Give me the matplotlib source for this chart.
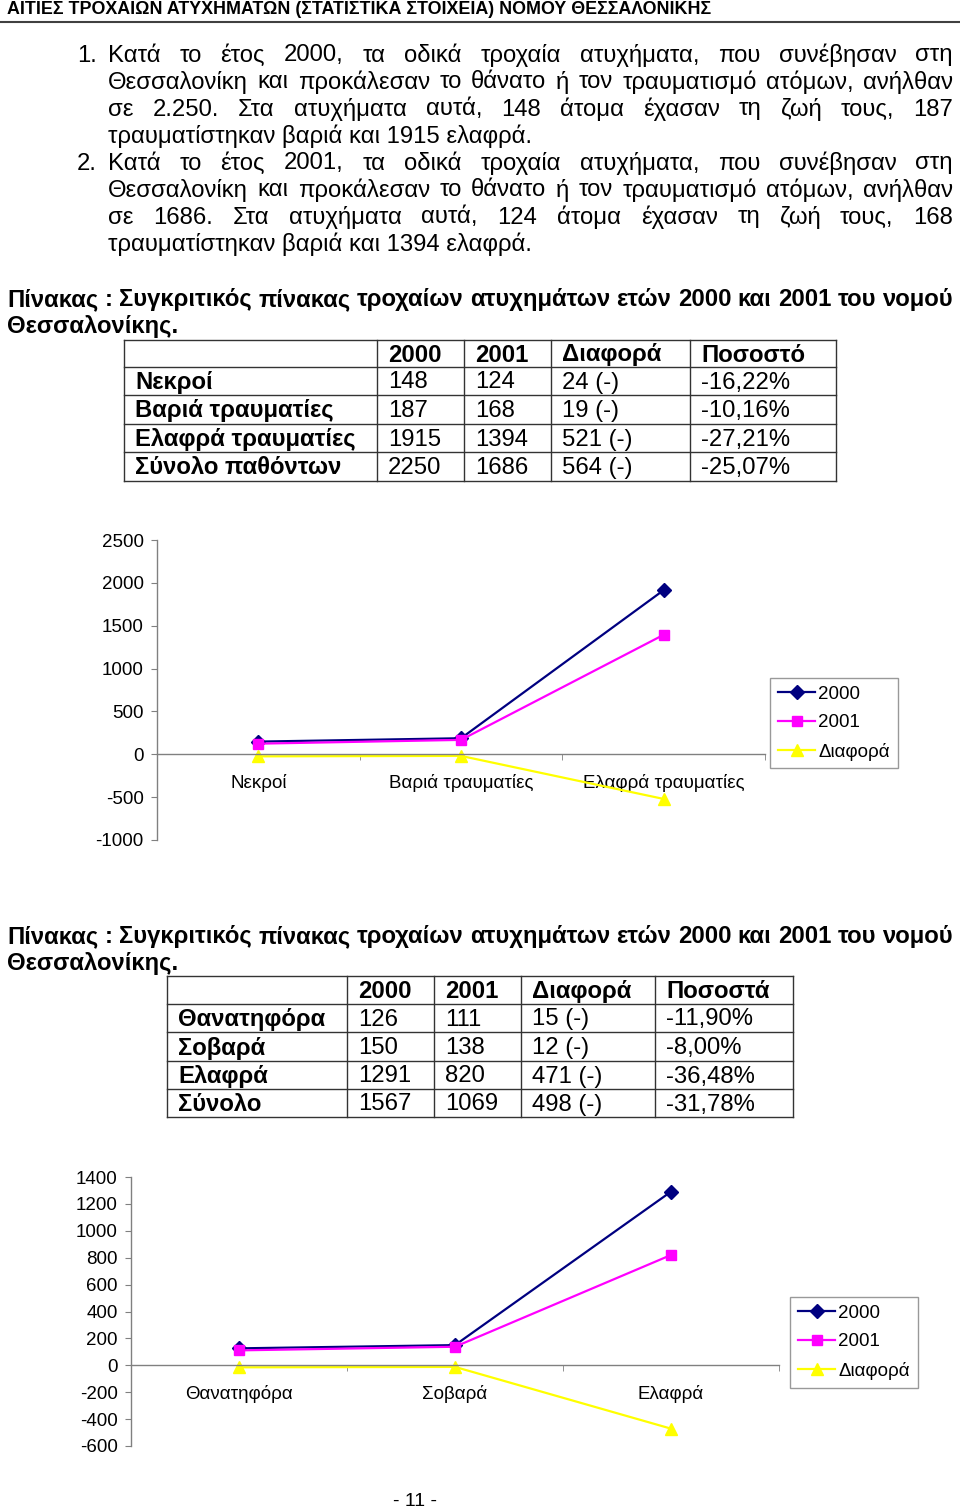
"""Σελίδα 11: αιτίες τροχαίων ατυχημάτων νομού Θεσσαλονίκης (κείμενο, πίνακες, διαγράμματα)."""

import matplotlib

matplotlib.use("Agg")
import matplotlib.pyplot as plt
import numpy as np
from matplotlib import font_manager
from matplotlib.font_manager import FontProperties
from matplotlib.lines import Line2D

# ---- δεδομένα -------------------------------------------------------------
cats_victims = ["Νεκροί", "Βαριά τραυματίες", "Ελαφρά τραυματίες"]
victims_2000 = [148, 187, 1915]
victims_2001 = [124, 168, 1394]
victims_diff = [-24, -19, -521]

table1_header = ["", "2000", "2001", "Διαφορά", "Ποσοστό"]
table1_rows = ["Νεκροί", "Βαριά τραυματίες", "Ελαφρά τραυματίες", "Σύνολο παθόντων"]
table1_2000 = ["148", "187", "1915", "2250"]
table1_2001 = ["124", "168", "1394", "1686"]
table1_diff = ["24 (-)", "19 (-)", "521 (-)", "564 (-)"]
table1_pct = ["-16,22%", "-10,16%", "-27,21%", "-25,07%"]

cats_accidents = ["Θανατηφόρα", "Σοβαρά", "Ελαφρά"]
accidents_2000 = [126, 150, 1291]
accidents_2001 = [111, 138, 820]
accidents_diff = [-15, -12, -471]

table2_header = ["", "2000", "2001", "Διαφορά", "Ποσοστά"]
table2_rows = ["Θανατηφόρα", "Σοβαρά", "Ελαφρά", "Σύνολο"]
table2_2000 = ["126", "150", "1291", "1567"]
table2_2001 = ["111", "138", "820", "1069"]
table2_diff = ["15 (-)", "12 (-)", "471 (-)", "498 (-)"]
table2_pct = ["-11,90%", "-8,00%", "-36,48%", "-31,78%"]

series_labels = ["2000", "2001", "Διαφορά"]

header_text = "ΑΙΤΙΕΣ ΤΡΟΧΑΙΩΝ ΑΤΥΧΗΜΑΤΩΝ (ΣΤΑΤΙΣΤΙΚΑ ΣΤΟΙΧΕΙΑ) ΝΟΜΟΥ ΘΕΣΣΑΛΟΝΙΚΗΣ"
item1 = [
    "Κατά το έτος 2000, τα οδικά τροχαία ατυχήματα, που συνέβησαν στη",
    "Θεσσαλονίκη και προκάλεσαν το θάνατο ή τον τραυματισμό ατόμων, ανήλθαν",
    "σε 2.250. Στα ατυχήματα αυτά, 148 άτομα έχασαν τη ζωή τους, 187",
    "τραυματίστηκαν βαριά και 1915 ελαφρά.",
]
item2 = [
    "Κατά το έτος 2001, τα οδικά τροχαία ατυχήματα, που συνέβησαν στη",
    "Θεσσαλονίκη και προκάλεσαν το θάνατο ή τον τραυματισμό ατόμων, ανήλθαν",
    "σε 1686. Στα ατυχήματα αυτά, 124 άτομα έχασαν τη ζωή τους, 168",
    "τραυματίστηκαν βαριά και 1394 ελαφρά.",
]
caption = [
    "Πίνακας : Συγκριτικός πίνακας τροχαίων ατυχημάτων ετών 2000 και 2001 του νομού",
    "Θεσσαλονίκης.",
]

# ---- στήσιμο ---------------------------------------------------------------
W, H = 960, 1512
installed = {f.name for f in font_manager.fontManager.ttflist}
SANS = "Liberation Sans" if "Liberation Sans" in installed else "DejaVu Sans"
NARROW = "Liberation Sans Narrow" if "Liberation Sans Narrow" in installed else SANS
plt.rcParams["font.family"] = [SANS, "DejaVu Sans"]

BODY = 17.2
TICK = 13.5
GRAY = "#808080"
RULE = "#333333"
DY = 1.5  # va="center" κάθεται λίγο ψηλά λόγω descender


def fx(px):
    return px / W


def fy(py):
    return 1 - py / H


fig = plt.figure(figsize=(W / 100, H / 100), dpi=100)
renderer = fig.canvas.get_renderer()


def text_width(s, prop):
    return renderer.get_text_width_height_descent(s, prop, ismath=False)[0]


def put_line(s, x0, x1, y, size=BODY, weight="normal", justify=True):
    prop = FontProperties(family=SANS, size=size, weight=weight)
    words = s.split()
    if not justify or len(words) < 2:
        fig.text(fx(x0), fy(y + DY), s, fontproperties=prop, va="center", ha="left")
        return
    widths = [text_width(w, prop) for w in words]
    gap = (x1 - x0 - sum(widths)) / (len(words) - 1)
    x = x0
    for w, wd in zip(words, widths):
        fig.text(fx(x), fy(y + DY), w, fontproperties=prop, va="center", ha="left")
        x += wd + gap


def put_item(num, lines, y0):
    fig.text(fx(77), fy(y0 + DY), f"{num}.", fontsize=BODY, va="center", ha="left")
    for i, s in enumerate(lines):
        put_line(s, 108, 953, y0 + 27 * i, justify=i < len(lines) - 1)


def put_caption(y0):
    put_line(caption[0], 7, 953, y0, weight="bold")
    put_line(caption[1], 7, 953, y0 + 27, weight="bold", justify=False)


def draw_table(header, rows, cols, col_x, row_y):
    for x in col_x:
        fig.add_artist(Line2D([fx(x)] * 2, [fy(row_y[0]), fy(row_y[-1])], color=RULE, lw=1.0))
    for y in row_y:
        fig.add_artist(Line2D([fx(col_x[0]), fx(col_x[-1])], [fy(y)] * 2, color=RULE, lw=1.0))
    mids = [(a + b) / 2 + DY for a, b in zip(row_y[:-1], row_y[1:])]
    for j, h in enumerate(header):
        fig.text(fx(col_x[j] + 11), fy(mids[0]), h, fontsize=BODY, weight="bold", va="center")
    for i, name in enumerate(rows):
        y = fy(mids[i + 1])
        fig.text(fx(col_x[0] + 11), y, name, fontsize=BODY, weight="bold", va="center")
        for j, col in enumerate(cols):
            fig.text(fx(col_x[j + 1] + 11), y, col[i], fontsize=BODY, va="center")


def draw_chart(rect, cats, s2000, s2001, sdiff, yticks, legend_xy):
    left, top, right, bottom = rect
    ax = fig.add_axes([fx(left), fy(bottom), (right - left) / W, (bottom - top) / H])
    x = np.arange(len(cats))
    ax.plot(x, s2000, color="#000080", marker="D", ms=7.5, lw=1.6, label=series_labels[0], clip_on=False)
    ax.plot(x, s2001, color="#FF00FF", marker="s", ms=7.5, lw=1.6, label=series_labels[1], clip_on=False)
    ax.plot(x, sdiff, color="#FFFF00", marker="^", ms=9, lw=1.6, label=series_labels[2], clip_on=False)
    ax.set_xlim(-0.5, len(cats) - 0.5)
    ax.set_ylim(yticks[0], yticks[-1])
    ax.set_yticks(yticks)
    ax.set_yticklabels([str(t) for t in yticks])
    ax.set_xticks(x)
    ax.set_xticklabels(cats)
    ax.set_xticks(np.arange(len(cats)) + 0.5, minor=True)
    for side in ("top", "right"):
        ax.spines[side].set_visible(False)
    ax.spines["bottom"].set_position(("data", 0))
    for side in ("left", "bottom"):
        ax.spines[side].set_color(GRAY)
        ax.spines[side].set_linewidth(1)
    ax.tick_params(axis="y", direction="out", length=4, color=GRAY, labelsize=TICK, pad=5.5)
    ax.tick_params(axis="x", which="major", length=0, labelsize=TICK, pad=14)
    ax.tick_params(axis="x", which="minor", direction="out", length=4, color=GRAY)
    ax.patch.set_visible(False)
    leg = ax.legend(
        loc="upper left",
        bbox_to_anchor=(fx(legend_xy[0]), fy(legend_xy[1])),
        bbox_transform=fig.transFigure,
        borderaxespad=0,
        fontsize=TICK,
        frameon=True,
        fancybox=False,
        handlelength=2.0,
        handletextpad=0.15,
        labelspacing=0.6,
        borderpad=0.42,
    )
    leg.get_frame().set_edgecolor(GRAY)
    leg.get_frame().set_linewidth(1)
    return ax


# ---- κεφαλίδα ----------------------------------------------------------------
fig.text(fx(7), fy(10), header_text, family=[NARROW, SANS], fontsize=12.9, weight="bold", va="center")
fig.add_artist(Line2D([0, 1], [fy(22)] * 2, color="#404040", lw=1.5))

# ---- κείμενο -----------------------------------------------------------------
put_item(1, item1, 54)
put_item(2, item2, 162)

# ---- πίνακας 1 και διάγραμμα 1 -----------------------------------------------
put_caption(298)
draw_table(
    table1_header,
    table1_rows,
    [table1_2000, table1_2001, table1_diff, table1_pct],
    [124, 377, 464, 551, 690, 836],
    [340, 367, 395, 424, 452, 481],
)
draw_chart(
    (157, 540, 765, 840),
    cats_victims,
    victims_2000,
    victims_2001,
    victims_diff,
    list(range(-1000, 2501, 500)),
    (770, 678),
)

# ---- πίνακας 2 και διάγραμμα 2 -----------------------------------------------
put_caption(935)
draw_table(
    table2_header,
    table2_rows,
    [table2_2000, table2_2001, table2_diff, table2_pct],
    [167, 347, 434, 521, 655, 793],
    [976, 1004, 1032, 1061, 1089, 1117],
)
draw_chart(
    (131, 1177, 779, 1446),
    cats_accidents,
    accidents_2000,
    accidents_2001,
    accidents_diff,
    list(range(-600, 1401, 200)),
    (790, 1297),
)

fig.text(fx(415), fy(1502), "- 11 -", fontsize=14, ha="center", va="center")

fig.savefig("out.png", dpi=100)
plt.close(fig)
